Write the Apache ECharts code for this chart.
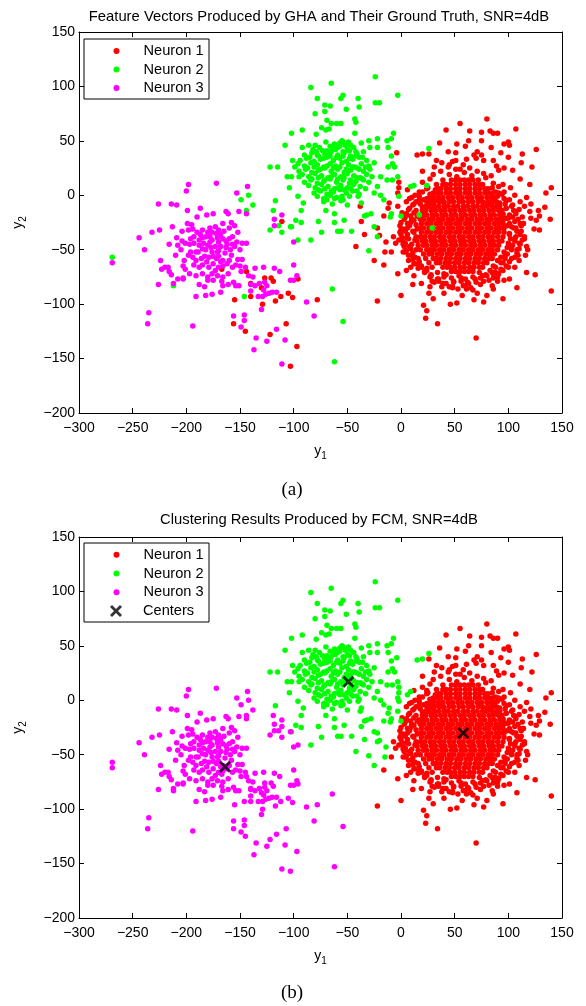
<!DOCTYPE html>
<html><head><meta charset="utf-8">
<script src="https://cdn.jsdelivr.net/npm/echarts@6/dist/echarts.min.js"></script>
<style>html,body{margin:0;padding:0;background:#fff}#c{width:586px;height:1006px}</style>
</head><body><div id="c"></div><script>
// ---------- data ----------
const xTicks = [-300,-250,-200,-150,-100,-50,0,50,100,150];
const yTicks = [-200,-150,-100,-50,0,50,100,150];
const legendNames = ['Neuron 1','Neuron 2','Neuron 3'];
const centers = [[58,-30],[-49,17],[-164,-61]];

// red cluster: solid core (rows: y, x list)
const redCoreRows = [
 [-70,[47,51,55,59,63,67]],
 [-66,[39,43,46,50,55,59,64,68,73,76]],
 [-62,[33,36,41,45,50,54,59,63,68,72,77,80]],
 [-58,[30,33,37,42,46,51,55,60,64,69,73,78,82,85]],
 [-54,[26,29,34,38,43,47,52,56,61,65,70,74,79,83,87]],
 [-50,[24,27,31,36,40,45,49,54,58,63,67,72,76,81,85,90]],
 [-46,[21,24,29,33,38,42,47,51,56,60,65,69,74,78,83,87,91]],
 [-42,[20,23,28,32,37,41,46,50,55,59,64,68,73,77,82,86,91,94]],
 [-38,[18,22,27,31,36,40,45,49,54,58,63,67,72,76,81,85,90,95]],
 [-34,[19,24,28,33,37,42,46,51,55,60,64,69,73,78,82,87,91,96]],
 [-30,[18,21,26,30,35,39,44,48,53,57,62,66,71,75,80,84,89,93,96]],
 [-26,[19,24,28,33,37,42,46,51,55,60,64,69,73,78,82,87,91,95]],
 [-22,[18,21,26,30,35,39,44,48,53,57,62,66,71,75,80,84,89,93,96]],
 [-18,[21,24,29,33,38,42,47,51,56,60,65,69,74,78,83,87,92,95]],
 [-14,[20,23,28,32,37,41,46,50,55,59,64,68,73,77,82,86,91,94]],
 [-10,[23,26,31,35,40,44,49,53,58,62,67,71,76,80,85,89,92]],
 [-6,[24,27,31,36,40,45,49,54,58,63,67,72,76,81,85,89]],
 [-2,[27,30,35,39,44,48,53,57,62,66,71,75,80,84,87]],
 [2,[30,33,37,42,46,51,55,60,64,69,73,78,82,85]],
 [6,[35,37,42,46,51,55,60,64,69,73,78,81]],
 [10,[39,42,46,51,55,60,64,69,73,76]],
 [14,[47,51,55,59,63,67]]
];
// red cluster: dense ring around the core
const redRing = [
 [48,-84],[58,-83],[65,-85],
 [35,-79],[42,-81],[49,-80],[56,-79],[63,-81],[70,-80],[77,-79],
 [27,-75],[34,-77],[40,-75],[47,-76],[54,-74],[60,-77],[67,-75],[74,-76],[80,-74],[86,-76],
 [22,-71],[28,-73],[34,-71],[40,-72],[73,-71],[79,-73],[85,-71],[91,-72],
 [16,-67],[24,-69],[29,-66],[83,-69],[88,-66],[95,-69],
 [12,-63],[19,-65],[26,-62],[86,-65],[93,-62],[98,-65],
 [11,-59],[17,-61],[23,-58],[90,-60],[97,-58],[101,-61],
 [7,-55],[13,-57],[21,-54],[93,-57],[99,-54],[106,-57],
 [5,-51],[11,-53],[18,-50],[96,-52],[103,-50],[108,-53],
 [3,-47],[9,-49],[16,-46],[99,-48],[104,-46],[110,-49],
 [2,-43],[10,-45],[15,-42],[100,-44],[106,-42],[111,-45],
 [1,-39],[7,-40],[14,-38],[102,-40],[107,-38],[113,-41],
 [-1,-34],[6,-36],[12,-34],[101,-35],[108,-33],[111,-36],
 [2,-31],[8,-28],[15,-31],[103,-29],[107,-30],[112,-28],
 [0,-25],[6,-26],[12,-23],[101,-26],[106,-24],[111,-26],
 [4,-20],[10,-22],[17,-20],[98,-21],[104,-20],[109,-22],
 [5,-17],[12,-16],[18,-18],[95,-17],[101,-18],[107,-15],
 [8,-12],[14,-14],[20,-11],[92,-13],[98,-12],[105,-14],
 [11,-9],[18,-8],[25,-10],[30,-12],[84,-9],[90,-11],[97,-8],[103,-10],
 [14,-6],[21,-4],[28,-7],[34,-5],[40,-7],[74,-5],[80,-7],[86,-5],[92,-7],[98,-5],
 [17,-1],[24,-3],[30,-1],[36,-3],[90,-1],[96,-3],
 [20,3],[27,1],[34,3],[88,3],[94,1],
 [25,7],[32,5],[85,7],
 [0,-36],[5,-39],[11,-33],[-1,-28],[6,-30],[13,-41],[2,-45],[8,-47],[14,-50],[3,-22],[9,-25],[15,-19],[1,-16],
 [7,-13],[12,-8],[5,-6],[10,-2],[17,-4],[4,-52],[10,-55],[16,-58],[7,-60],[13,-63],[19,-66],[-2,-41],[4,-33],
 [9,-19],[14,-27],[101,-36],[106,-40],[112,-33],[99,-28],[105,-30],[110,-44],[103,-47],[108,-50],[114,-26],
 [100,-21],[107,-17],[113,-20],[98,-12],[104,-9],[110,-13],[101,-4],[106,0],[97,-55],[103,-58],[109,-55],[95,-62],
 [100,-66],[115,-38],[117,-47],[111,-6],[96,3],[102,7],
 [20,12],[27,15],[33,10],[39,14],[45,19],[52,17],[59,21],[66,18],[72,14],[79,16],[86,11],[91,8],[30,19],[37,22],
 [44,26],[51,24],[58,28],[64,25],[71,22],[77,20],[84,18],[48,31],[61,33],[55,24],[24,6],[17,3],[91,2],[95,10],[13,0],
 [22,-70],[28,-74],[35,-77],[42,-73],[49,-79],[56,-76],[62,-80],[69,-77],[76,-74],[82,-78],[88,-71],[93,-68],
 [17,-64],[24,-67],[31,-80],[45,-84],[53,-86],[60,-83],[67,-87],[74,-82],[85,-83],[90,-75],[39,-81],[27,-84]
];
const redSparse = [
 [80,70],[55,66],[42,60],[107,61],[64,59],[75,58],[86,57],[90,57],[83,59],[63,50],[75,50],[71,40],[84,44],[96,47],
 [100,49],[101,46],[93,39],[113,38],[126,42],[52,47],[36,48],[26,38],[33,32],[38,30],[44,40],[51,39],[51,32],[31,26],
 [68,37],[70,34],[75,37],[77,32],[86,32],[89,27],[91,23],[96,25],[104,23],[111,15],[122,26],[120,10],[135,2],[140,7],
 [139,-22],[129,-19],[126,-23],[124,-31],[129,-32],[121,-21],[115,-40],[110,-60],[117,-71],[125,-73],[140,-88],
 [77,-98],[68,-96],[52,-99],[46,-100],[61,-86],[71,-90],[80,-92],[86,-86],[90,-79],[96,-78],[101,-77],
 [-22,-97],[0,-92],[21,-101],[24,-106],[23,-113],[34,-118],[70,-131],[-16,-64],[-9,-52],[2,-52],[-3,-72],[5,-69],
 [9,-66],[11,-82],[19,-81],[26,-90],[29,-79],[8,-3],[0,-32],[4,-44],[-5,-44],[-7,-38],
 [134,-11],[121,-8],[128,-14],[120,-15],[115,-10],[118,-50],[108,-85],[95,-95],[40,-90],[30,-95],[112,30],[100,35],
 [60,45],[45,28],[20,22],[117,-2],[114,-26],[116,-55],[38,-84],[57,-92],[48,-85],[86,-72],[106,-66],[12,-74]
];
// green cluster
const greenDense = [
 [-70,49],[-62,47],[-55,50],[-47,46],
 [-82,42],[-76,44],[-69,41],[-63,43],[-57,45],[-50,42],[-44,44],
 [-90,37],[-83,39],[-77,36],[-71,38],[-65,40],[-59,37],[-53,39],[-47,36],[-41,38],[-35,40],
 [-94,32],[-88,34],[-81,31],[-75,33],[-69,35],[-63,32],[-57,34],[-51,31],[-45,33],[-39,35],[-32,32],
 [-96,29],[-90,27],[-84,30],[-78,28],[-72,26],[-66,29],[-61,27],[-55,30],[-49,28],[-43,26],[-37,29],[-30,27],[-25,30],
 [-95,22],[-89,24],[-83,21],[-77,23],[-71,25],[-65,22],[-59,24],[-53,21],[-47,23],[-41,25],[-35,22],[-29,24],
 [-92,19],[-86,17],[-80,20],[-74,18],[-68,16],[-62,19],[-56,17],[-50,20],[-44,18],[-38,16],[-32,19],[-27,17],
 [-90,12],[-84,14],[-78,11],[-72,13],[-66,15],[-60,12],[-54,14],[-48,11],[-42,13],[-36,15],[-30,12],
 [-86,9],[-80,7],[-74,10],[-68,8],[-62,6],[-56,9],[-50,7],[-44,10],[-38,8],[-33,6],
 [-81,2],[-75,4],[-69,1],[-63,3],[-57,5],[-51,2],[-45,4],[-39,1],
 [-78,-1],[-72,-3],[-66,0],[-60,-2],[-54,-4],[-48,-1],
 [-72,-6],[-64,-8],[-56,-5],[-50,-9],
 [-66,45],[-59,44],[-52,46],
 [-79,40],[-73,41],[-67,39],[-61,42],[-54,40],[-48,41],[-42,40],
 [-85,35],[-78,37],[-72,34],[-66,36],[-60,35],[-54,36],[-48,34],[-42,36],[-36,35],
 [-87,25],[-81,26],[-75,24],[-69,27],[-63,25],[-57,26],[-51,24],[-45,26],[-39,24],[-33,26],
 [-83,15],[-77,16],[-71,14],[-65,17],[-59,15],[-53,16],[-47,14],[-41,16],[-35,14],
 [-77,5],[-71,6],[-65,4],[-59,7],[-53,5],[-47,6],[-41,4],
 [-69,-4],[-62,-3],[-55,-1]
];
const greenSparse = [
 [-24,109],[-65,103],[-84,99],[-3,92],[-54,92],[-56,89],[-78,89],[-40,89],[-24,85],[-20,85],[-71,83],[-66,82],
 [-51,79],[-39,81],[-71,77],[-80,75],[-43,70],[-42,67],[-69,69],[-65,66],[-60,66],[-56,66],[-74,62],[-70,60],
 [-67,61],[-92,60],[-79,56],[-43,57],[-7,57],[-102,57],[-30,50],[-22,52],[-13,50],[-9,52],[-108,46],[-92,44],
 [-86,46],[-80,46],[-57,48],[-54,49],[-49,49],[-37,48],[-29,44],[-22,44],[-12,44],[-8,29],[-9,36],[-101,32],
 [-99,26],[-122,26],[-115,26],[-106,17],[-102,17],[-95,17],[-104,7],[-96,-1],[-91,-7],[-93,-14],[-117,-5],
 [-98,-23],[-93,-25],[-102,-29],[-84,-41],[-74,-34],[-77,-24],[-70,-14],[-62,-17],[-62,-25],[-59,-33],[-56,-33],
 [-53,-23],[-46,-33],[-25,-29],[-22,-38],[-32,-18],[-28,-17],[-40,-1],[-37,-7],[-25,2],[-19,0],[-13,14],[-8,14],
 [-3,17],[-2,-1],[0,-19],[-9,-17],[-16,-4],[-22,8],[-19,17],[-12,26],[-6,26],[-30,-51],[-34,-19],[-10,-20],
 [9,8],[26,43]
];
// magenta cluster
const magenta = [
 [-198,10],[-172,11],[-200,4],[-143,8],[-153,2],[-226,-8],[-214,-8],[-209,-9],[-199,-14],[-187,-12],[-175,-17],
 [-181,-18],[-163,-15],[-161,-17],[-151,-15],[-144,-17],[-190,-20],[-199,-26],[-195,-27],[-194,-31],[-198,-32],
 [-204,-33],[-213,-29],[-225,-32],[-232,-34],[-244,-39],[-239,-50],[-166,-26],[-158,-25],[-155,-28],[-209,-39],
 [-204,-42],[-201,-44],[-197,-45],[-193,-44],[-216,-45],[-188,-41],[-185,-39],[-182,-38],[-180,-34],[-168,-36],
 [-171,-39],[-166,-40],[-163,-42],[-160,-40],[-157,-45],[-155,-47],[-159,-50],[-163,-48],[-168,-47],[-173,-47],
 [-177,-48],[-180,-46],[-184,-44],[-185,-49],[-189,-52],[-153,-43],[-148,-44],[-144,-44],[-210,-55],[-224,-60],
 [-220,-66],[-223,-68],[-217,-66],[-216,-70],[-214,-73],[-194,-57],[-191,-60],[-193,-64],[-188,-66],[-185,-64],
 [-202,-60],[-203,-65],[-201,-68],[-203,-76],[-196,-52],[-191,-52],[-183,-56],[-179,-57],[-176,-52],[-170,-56],
 [-166,-60],[-162,-63],[-166,-65],[-170,-66],[-173,-69],[-176,-72],[-180,-75],[-152,-59],[-148,-59],[-154,-64],
 [-150,-65],[-161,-72],[-166,-75],[-171,-74],[-175,-78],[-180,-78],[-183,-84],[-188,-82],[-191,-74],[-197,-72],
 [-191,-93],[-182,-92],[-176,-91],[-168,-89],[-166,-83],[-161,-82],[-156,-80],[-154,-83],[-151,-83],[-226,-82],
 [-212,-81],[-208,-77],[-203,-77],[-235,-108],[-236,-118],[-194,-120],[-149,-70],[-145,-66],[-142,-74],[-136,-67],
 [-128,-66],[-118,-67],[-113,-70],[-100,-64],[-100,-78],[-97,-74],[-103,-78],[-138,-75],[-140,-82],[-140,-88],
 [-136,-83],[-132,-81],[-127,-80],[-125,-83],[-128,-87],[-133,-93],[-129,-93],[-126,-91],[-123,-90],[-120,-89],
 [-116,-89],[-130,-105],[-156,-111],[-146,-110],[-146,-115],[-149,-121],[-135,-131],[-125,-134],[-116,-123],
 [-108,-133],[-137,-142],[-111,-155],[-88,-98],[-81,-111],[-100,-43],[-118,-22],[-111,-18],[-118,-28],[-269,-62],
 [-173,-29],[-176,-34],[-170,-32],[-185,-32],[-190,-34],[-176,-41],[-182,-50],[-171,-52],[-179,-66],[-185,-72],[-167,-79],
 [-178,-30],[-172,-35],[-165,-33],[-160,-30],[-187,-36],[-193,-38],[-178,-38],[-170,-43],[-162,-45],[-157,-38],
 [-152,-34],[-150,-50],[-158,-55],[-164,-53],[-170,-51],[-175,-56],[-181,-61],[-186,-58],[-175,-63],[-168,-61],
 [-160,-60],[-157,-66],[-196,-40],[-205,-50],[-208,-46],[-198,-55],[-188,-46],[-178,-43],[-172,-58]
];
// points whose colour differs between (a) ground truth and (b) FCM result
const redToMagenta = [[-111,-24],[-167,-68],[-144,-70],[-140,-81],[-127,-76],[-119,-79],[-121,-76],[-140,-93],
 [-129,-100],[-117,-97],[-112,-93],[-105,-90],[-101,-94],[-96,-77],[-78,-96],[-155,-96],[-156,-118],[-145,-125],
 [-122,-128],[-107,-118],[-97,-139],[-103,-157],[-130,-85]];
const greenToMagenta = [[-269,-57],[-212,-83],[-149,-4],[-142,0],[-138,-9],[-144,-14],[-146,-93],[-64,-86],
 [-54,-116],[-62,-153],[-119,-14],[-114,-28],[-111,-34],[-122,-32],[-103,-29],[-96,-41]];
const greenToRed = [[12,9],[24,9],[17,-18],[29,-30]];
const redToGreen = [[-4,39],[-38,-10],[-37,-24],[-34,-36],[-42,-47],[-25,-60],[-22,-30],[-20,-37],[-14,-43],
 [-16,-19],[-12,-12],[-11,-7],[-3,2],[-3,-10],[-2,12],[-2,7],[6,5],[-15,-52],[15,37],[20,38]];

// ---------- build ----------
const FONT = '"Liberation Sans", Arial, Helvetica, sans-serif';
function rowsToPairs(rows){ const out=[]; rows.forEach(r=>r[1].forEach(x=>out.push([x,r[0]]))); return out; }
const redBase = rowsToPairs(redCoreRows).concat(redRing, redSparse);
const greenBase = greenDense.concat(greenSparse);

const truth = [redBase.concat(redToMagenta, redToGreen), greenBase.concat(greenToMagenta, greenToRed), magenta];
const fcm = [redBase.concat(greenToRed), greenBase.concat(redToGreen), magenta.concat(redToMagenta, greenToMagenta)];
const colors = ['#ff0000','#00ff00','#ff00ff'];
const XPATH = 'path://M0,2 L2,0 L6,4 L10,0 L12,2 L8,6 L12,10 L10,12 L6,8 L2,12 L0,10 L4,6 Z';
const minus = v => String(v).replace('-', '\u2212');

const gridTops = [32, 537];
const grids = gridTops.map(t => ({left:76, top:t, width:486, height:381, show:false}));
const xAxes = [], yAxes = [];
gridTops.forEach((t,i) => {
  const xb = {gridIndex:i, type:'value', min:xTicks[0], max:xTicks[xTicks.length-1], interval:50,
    axisLine:{onZero:false, lineStyle:{color:'#000', width:1}},
    axisTick:{inside:true, length:5, lineStyle:{color:'#000'}}, splitLine:{show:false}};
  xAxes.push(Object.assign({}, xb, {position:'bottom',
    axisLabel:{color:'#000', fontSize:14, fontFamily:FONT, margin:8, formatter:minus},
    name:'y{s|1}', nameLocation:'middle', nameGap:28,
    nameTextStyle:{color:'#000', fontSize:14, fontFamily:FONT, lineHeight:20,
      rich:{s:{fontSize:10, fontFamily:FONT, color:'#000', lineHeight:20, verticalAlign:'bottom'}}}}));
  xAxes.push(Object.assign({}, xb, {position:'top', axisLabel:{show:false}}));
  const yb = {gridIndex:i, type:'value', min:yTicks[0], max:yTicks[yTicks.length-1], interval:50,
    axisLine:{onZero:false, lineStyle:{color:'#000', width:1}},
    axisTick:{inside:true, length:5, lineStyle:{color:'#000'}}, splitLine:{show:false}};
  yAxes.push(Object.assign({}, yb, {position:'left',
    axisLabel:{color:'#000', fontSize:14, fontFamily:FONT, margin:4, formatter:minus},
    name:'y{s|2}', nameLocation:'middle', nameGap:51, nameRotate:90,
    nameTextStyle:{color:'#000', fontSize:14, fontFamily:FONT, lineHeight:20,
      rich:{s:{fontSize:10, fontFamily:FONT, color:'#000', lineHeight:20, verticalAlign:'bottom'}}}}));
  yAxes.push(Object.assign({}, yb, {position:'right', axisLabel:{show:false}}));
});

const series = [];
[truth, fcm].forEach((sets, p) => {
  sets.forEach((d, k) => series.push({type:'scatter', name:legendNames[k], xAxisIndex:2*p, yAxisIndex:2*p,
    data:d, symbol:'circle', symbolSize:5.5, itemStyle:{color:colors[k], opacity:1}, silent:true, z:2+k}));
});
series.push({type:'scatter', name:'Centers', xAxisIndex:2, yAxisIndex:2, data:centers, symbol:XPATH,
  symbolSize:12, itemStyle:{color:'#000'}, silent:true, z:6});

const legendBase = {orient:'vertical', itemWidth:44, itemHeight:6, itemGap:0, padding:[0,0,0,10], selectedMode:false,
  textStyle:{fontSize:14.6, fontFamily:FONT, color:'#000', lineHeight:18.5}, z:10};
const legends = [
  Object.assign({}, legendBase, {data:legendNames, left:103.5, top:41.75}),
  Object.assign({}, legendBase, {data:legendNames, left:103.5, top:545.5, textStyle:Object.assign({}, legendBase.textStyle, {lineHeight:18.7})}),
  Object.assign({}, legendBase, {data:[{name:'Centers', icon:XPATH}], left:100, itemHeight:12, top:601.6, textStyle:Object.assign({}, legendBase.textStyle, {lineHeight:18.7})})
];

const graphic = [
  {type:'rect', shape:{x:84, y:39, width:125, height:60}, style:{fill:'#fff', stroke:'#000', lineWidth:1}, z:9},
  {type:'rect', shape:{x:84, y:543, width:125, height:79}, style:{fill:'#fff', stroke:'#000', lineWidth:1}, z:9},
  {type:'text', x:319, y:17, style:{text:'Feature Vectors Produced by GHA and Their Ground Truth, SNR=4dB', align:'center', verticalAlign:'middle', font:'14.8px '+FONT, fill:'#000'}},
  {type:'text', x:319, y:520, style:{text:'Clustering Results Produced by FCM, SNR=4dB', align:'center', verticalAlign:'middle', font:'14.8px '+FONT, fill:'#000'}},
  {type:'text', x:292, y:490, style:{text:'(a)', align:'center', verticalAlign:'middle', font:'19px "Liberation Serif", "Times New Roman", serif', fill:'#000'}},
  {type:'text', x:292, y:993, style:{text:'(b)', align:'center', verticalAlign:'middle', font:'19px "Liberation Serif", "Times New Roman", serif', fill:'#000'}}
];

const chart = echarts.init(document.getElementById('c'), null, {renderer:'canvas'});
chart.setOption({animation:false, backgroundColor:'#fff', grid:grids, xAxis:xAxes, yAxis:yAxes,
  series:series, legend:legends, graphic:graphic});
</script></body></html>
